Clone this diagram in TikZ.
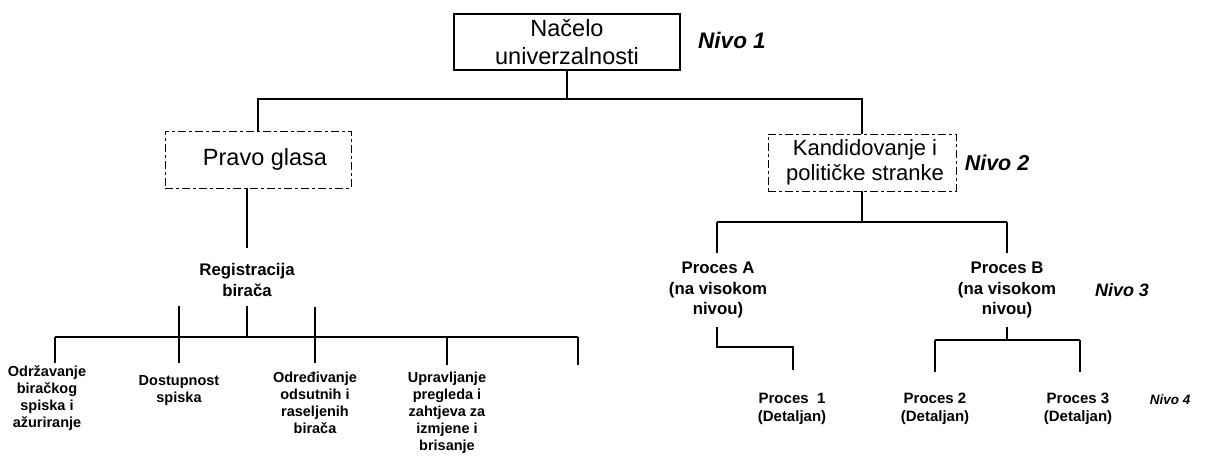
\documentclass[tikz,border=0pt]{standalone}
\usepackage{fontspec}
\setmainfont{Liberation Sans}
\begin{document}
\begin{tikzpicture}[x=1pt,y=-1pt,
  conn/.style={line width=1.8pt},
  topbox/.style={draw, line width=2.6pt, minimum width=226pt, minimum height=56pt, inner sep=0pt, align=center, font=\fontsize{23.5}{27.5}\selectfont},
  dbox/.style={draw, line width=0.9pt, dash pattern=on 8pt off 3pt on 3pt off 3pt, minimum height=57pt, inner sep=0pt, align=center, font=\fontsize{22}{24.5}\selectfont},
  midtxt/.style={align=center, inner sep=0pt, font=\bfseries\fontsize{16.8}{20.5}\selectfont},
  leaf/.style={align=center, inner sep=0pt, font=\bfseries\fontsize{14.5}{17}\selectfont},
  detail/.style={align=center, inner sep=0pt, font=\bfseries\fontsize{15}{18}\selectfont},
  nivo/.style={inner sep=0pt, font=\bfseries\itshape}
]
\useasboundingbox (0,0) rectangle (1207,463);

% level 1
\node[topbox] (top) at (567,42) {Načelo\\univerzalnosti};
\node[nivo, font=\bfseries\itshape\fontsize{22.5}{24}\selectfont] (n1) at (732,40) {Nivo 1};

% level 2
\node[dbox, minimum width=186pt, font=\fontsize{23.5}{26}\selectfont] (pravo) at (258,159.5) {\hspace*{14pt}Pravo glasa};
\node[dbox, minimum width=188pt] (kand) at (862,162.5) {\hspace*{6pt}Kandidovanje i\\\hspace*{6pt}političke stranke};
\node[nivo, font=\bfseries\itshape\fontsize{21.5}{24}\selectfont] (n2) at (997,163) {Nivo 2};

\coordinate (jR) at (862,99);
\draw[conn] (top.south) -- (top.south |- jR);
\draw[conn] (pravo.north) |- (jR) -- (kand.north);

% left branch
\node[midtxt] (reg) at (247,280) {Registracija\\birača};
\coordinate (regtop) at (247,248);
\draw[conn] (pravo.south -| reg.north) -- (regtop);

\coordinate (rs) at (247,306);
\coordinate (lb1) at (55,337);
\coordinate (lb2) at (179,337);
\coordinate (lb3) at (315,337);
\coordinate (lb4) at (447,337);
\coordinate (lb5) at (578,337);
\coordinate (lt2) at (179,306);
\coordinate (lt3) at (315,307);
\draw[conn] (rs) -- (rs |- lb1);
\draw[conn] (lb1) -- (lb5);
\draw[conn] (lb1) -- ++(0,26);
\draw[conn] (lt2) -- ++(0,57);
\draw[conn] (lt3) -- ++(0,56);
\draw[conn] (lb4) -- ++(0,28);
\draw[conn] (lb5) -- ++(0,28);

\node[leaf] (l1) at (47,398.5) {Održavanje\\biračkog\\spiska i\\ažuriranje};
\node[leaf] (l2) at (179,390.5) {Dostupnost\\spiska};
\node[leaf] (l3) at (315,402.5) {Određivanje\\odsutnih i\\raseljenih\\birača};
\node[leaf] (l4) at (447,412.5) {Upravljanje\\pregleda i\\zahtjeva za\\izmjene i\\brisanje};

% right branch
\coordinate (rb1) at (717,222);
\coordinate (rb2) at (1007,222);
\draw[conn] (kand.south) -- (kand.south |- rb1);
\draw[conn] (rb1) -- (rb2);
\draw[conn] (rb1) -- ++(0,31);
\draw[conn] (rb2) -- ++(0,31);

\node[midtxt] (pa) at (718,290) {Proces A\\(na visokom\\nivou)};
\node[midtxt] (pb) at (1007,290) {Proces B\\(na visokom\\nivou)};
\node[nivo, font=\bfseries\itshape\fontsize{18}{20}\selectfont] (n3) at (1122,290) {Nivo 3};

\coordinate (pa1) at (717,327);
\coordinate (pak) at (793,347);
\draw[conn] (pa1) |- (pak) -- ++(0,23);

\coordinate (pb1) at (1007,327);
\coordinate (pbL) at (935,340);
\coordinate (pbR) at (1080,340);
\draw[conn] (pb1) -- (pb1 |- pbL);
\draw[conn] (pbL) -- (pbR);
\draw[conn] (pbL) -- ++(0,32);
\draw[conn] (pbR) -- ++(0,32);

\node[detail] (p1) at (792,409) {Proces\ \ 1\\(Detaljan)};
\node[detail] (p2) at (935,409) {Proces 2\\(Detaljan)};
\node[detail] (p3) at (1078,409) {Proces 3\\(Detaljan)};
\node[nivo, font=\bfseries\itshape\fontsize{13.5}{15}\selectfont] (n4) at (1170,400) {Nivo 4};
\end{tikzpicture}
\end{document}
